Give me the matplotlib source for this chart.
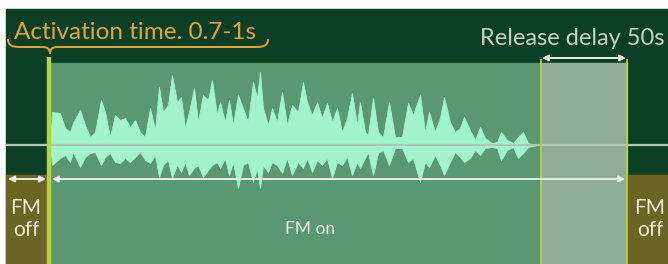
import matplotlib
matplotlib.use("Agg")
import matplotlib.pyplot as plt
from matplotlib.patches import Rectangle, PathPatch
from matplotlib.path import Path

# ---------------- data ----------------
# timeline events (pixel time axis of the diagram)
fm_on_start = 49
release_start = 541
release_end = 627
timeline_end = 668

labels_top = ["Activation time. 0.7-1s", "Release delay 50s"]
label_off = "FM\noff"
label_on = "FM on"

# waveform envelope: time, upper edge, lower edge
wave_t = [50, 52, 60, 65, 70, 73, 80, 85, 90, 95, 101, 105, 110, 115, 120, 125,
          130, 135, 140, 145, 150, 155, 159, 163, 168, 172, 177, 181, 185, 189,
          194, 198, 203, 208, 212, 217, 220, 225, 229, 233, 238, 243, 248, 253,
          257, 260, 263, 268, 272, 277, 282, 287, 292, 298, 303, 307, 312, 317,
          322, 327, 332, 337, 342, 347, 352, 357, 360, 365, 368, 373, 378, 383,
          389, 395, 402, 408, 413, 420, 425, 429, 435, 440, 444, 450, 455, 460,
          464, 470, 475, 480, 485, 492, 497, 501, 507, 513, 518, 523, 528, 533, 537]
wave_top = [145, 112, 113, 128, 132, 123, 110, 125, 137, 132, 100, 112, 137, 115, 120, 118,
            127, 120, 132, 137, 108, 130, 87, 112, 105, 75, 102, 97, 128, 112,
            88, 122, 95, 100, 80, 115, 102, 122, 100, 125, 95, 108, 122, 82,
            98, 72, 108, 125, 108, 122, 92, 125, 105, 112, 82, 102, 115, 102,
            118, 103, 122, 108, 132, 118, 93, 125, 102, 132, 135, 98, 132, 137,
            102, 137, 137, 103, 115, 95, 132, 112, 132, 118, 97, 122, 132, 128,
            117, 130, 140, 127, 138, 143, 142, 132, 140, 143, 137, 132, 143, 144, 145]
wave_bot = [145, 165, 158, 155, 162, 152, 167, 157, 153, 152, 165, 157, 153, 162, 163, 158,
            162, 157, 152, 160, 163, 155, 177, 165, 160, 178, 165, 172, 162, 175,
            168, 165, 177, 170, 165, 162, 168, 158, 175, 162, 188, 165, 162, 182,
            168, 188, 165, 172, 162, 165, 173, 158, 175, 162, 168, 158, 172, 160,
            165, 158, 178, 162, 165, 157, 175, 162, 168, 158, 152, 175, 153, 150,
            165, 148, 148, 162, 158, 182, 162, 167, 155, 165, 175, 162, 152, 157,
            162, 158, 150, 155, 148, 147, 148, 160, 150, 147, 158, 153, 147, 146, 145]

# ---------------- styles ----------------
W, H = 668, 264
DARK = "#0b3f24"
PANEL = "#5a9872"
RELEASE = "#8fae99"
OLIVE = "#6c6422"
YEL = "#b6d23e"
MINT = "#a2f5cb"
BASE = "#b2c4ba"
ARROW = "#e6efe8"
ORANGE = "#e3a436"
FONT = ["Lato", "DejaVu Sans"]

fig = plt.figure(figsize=(W / 100, H / 100), dpi=100)
ax = fig.add_axes([0, 0, 1, 1])
ax.set_xlim(0, W)
ax.set_ylim(H, 0)
ax.axis("off")
fig.patch.set_facecolor("white")

# background
ax.add_patch(Rectangle((5.5, 9), W - 5.5, H - 9, color=DARK, zorder=0))
# FM on panel
ax.add_patch(Rectangle((fm_on_start, 63), release_start - fm_on_start, H - 63, color=PANEL, zorder=1))
# release region
ax.add_patch(Rectangle((release_start, 63), release_end - release_start, H - 63, color=RELEASE, zorder=1))
# FM off boxes
ax.add_patch(Rectangle((5.5, 175), fm_on_start - 2 - 5.5, H - 175, color=OLIVE, zorder=1))
ax.add_patch(Rectangle((release_end, 175), timeline_end - release_end, H - 175, color=OLIVE, zorder=1))

# waveform
ax.fill_between(wave_t, wave_top, wave_bot, color=MINT, lw=0.6, ec=MINT, zorder=2)
# baseline
ax.plot([5.5, W], [145, 145], color=BASE, lw=1.6, zorder=3)

# boundary lines
ax.plot([fm_on_start, fm_on_start], [57, H], color=YEL, lw=3.2, zorder=4, solid_capstyle="butt")
ax.plot([release_start, release_start], [60, H], color=YEL, lw=1.3, zorder=4)
ax.plot([release_end, release_end], [60, H], color=YEL, lw=1.3, zorder=4)

# arrows
def darrow(x0, x1, y, heads="<|-|>"):
    ax.annotate("", xy=(x1, y), xytext=(x0, y),
                arrowprops=dict(arrowstyle=heads, color=ARROW, lw=1.4,
                                mutation_scale=9, shrinkA=0, shrinkB=0), zorder=5)

darrow(8, 46, 179)
darrow(52, 625, 179)
darrow(629, 672, 179)
darrow(542, 626, 58)

# brace under activation label
verts = [(8, 39), (8, 45.5), (12, 47), (20, 47), (42, 47), (48, 47), (50, 49), (50, 54),
         (50, 49), (52, 47), (58, 47), (256, 47), (264, 47), (268, 45.5), (268, 39)]
codes = [Path.MOVETO, Path.CURVE4, Path.CURVE4, Path.CURVE4, Path.LINETO,
         Path.CURVE4, Path.CURVE4, Path.CURVE4,
         Path.CURVE4, Path.CURVE4, Path.CURVE4, Path.LINETO,
         Path.CURVE4, Path.CURVE4, Path.CURVE4]
ax.add_patch(PathPatch(Path(verts, codes), fc="none", ec=ORANGE, lw=1.4, zorder=5))

# texts
fig.canvas.draw()
r = fig.canvas.get_renderer()

def fit_text(x, y, s, target_w, size, **kw):
    t = ax.text(x, y, s, fontsize=size, family=FONT, **kw)
    w = t.get_window_extent(r).width
    t.set_fontsize(size * target_w / w)
    return t

fit_text(14, 39, labels_top[0], 243, 16, color=ORANGE, ha="left", va="baseline", zorder=6)
fit_text(665, 45, labels_top[1], 185, 16, color="#c3d3c8", ha="right", va="baseline", zorder=6)

off_kw = dict(fontsize=15, family=FONT, color="#f1ead0", ha="center", va="center",
              linespacing=1.15, zorder=6)
ax.text(26, 219, label_off, **off_kw)
ax.text(650, 219, label_off, **off_kw)
ax.text(310, 229, label_on, fontsize=12.5, family=FONT, color="#eef3ee",
        ha="center", va="center", zorder=6)

fig.savefig("out.png", dpi=100, facecolor="white")
